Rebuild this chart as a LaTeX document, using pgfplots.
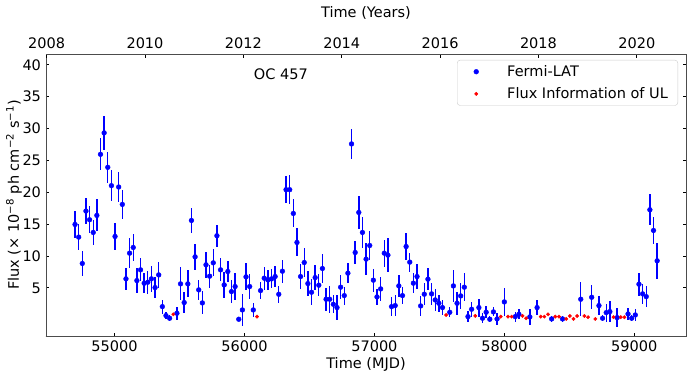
\documentclass[border=0pt]{standalone}
\usepackage{fontspec}
\setmainfont{DejaVu Sans}
\usepackage{pgfplots}
\usepackage{pgfplotstable}
\pgfplotsset{compat=1.18}

% Fermi-LAT 28-day bins: MJD, flux (1e-8 ph cm-2 s-1), error
\pgfplotstableread{
mjd flux err
54696 14.96 2.1
54724 12.97 2.0
54752 8.83 1.9
54780 17.06 2.1
54808 15.69 2.1
54836 13.70 2.0
54864 16.37 2.5
54892 25.96 2.5
54920 29.32 2.7
54948 23.92 2.4
54976 21.04 2.4
55004 13.07 2.1
55032 20.83 2.3
55060 18.10 2.3
55088 6.42 1.7
55116 10.45 2.4
55144 11.34 2.1
55172 6.15 1.9
55200 7.83 1.8
55228 5.73 1.6
55256 5.89 1.8
55284 6.42 2.0
55312 5.05 1.7
55340 7.04 2.1
55368 2.06 1.1
55396 0.65 0.6
55424 0.24 0.5
55480 1.02 1.0
55508 5.63 2.6
55536 2.70 1.6
55564 5.63 2.1
55592 15.58 2.0
55620 9.87 2.0
55648 4.69 1.6
55676 2.64 1.8
55704 8.62 2.0
55732 6.84 1.8
55760 8.93 2.1
55788 13.18 1.7
55816 7.83 1.8
55844 5.47 2.1
55872 7.57 1.6
55900 4.42 1.8
55928 5.21 2.1
55956 0.08 0.0
55984 1.54 2.5
56012 6.73 2.1
56040 5.21 2.0
56068 1.54 1.1
56124 4.58 1.4
56152 6.52 1.8
56180 6.26 1.6
56208 6.41 1.5
56236 6.78 1.6
56264 4.00 1.3
56292 7.62 1.8
56320 20.41 2.1
56348 20.41 2.3
56376 16.68 2.2
56404 12.13 2.2
56432 6.78 1.9
56460 8.98 2.3
56488 5.68 1.9
56516 4.32 2.0
56544 6.62 2.0
56572 5.42 1.7
56600 8.04 2.3
56628 3.22 1.8
56656 3.22 2.1
56684 2.43 1.4
56712 1.91 1.9
56740 5.11 1.9
56768 3.79 1.4
56796 7.31 1.6
56824 27.59 2.4
56852 10.55 1.8
56880 16.84 2.6
56908 13.70 2.4
56936 9.51 2.5
56964 11.65 2.2
56992 6.21 1.8
57020 3.58 1.3
57048 4.84 1.9
57076 10.45 2.1
57104 10.14 2.7
57132 2.06 1.5
57160 2.22 1.6
57188 5.31 1.7
57216 3.79 1.3
57244 11.49 2.1
57272 9.04 1.5
57300 5.74 1.6
57328 6.78 1.9
57356 2.17 1.6
57384 4.01 1.7
57412 6.37 1.7
57440 4.06 1.7
57468 3.11 1.7
57496 2.59 1.3
57524 1.91 1.2
57580 1.17 0.8
57608 5.31 2.5
57636 2.59 1.8
57664 3.74 2.0
57692 5.11 2.2
57720 0.49 0.9
57748 1.65 1.2
57804 1.91 1.4
57832 0.24 0.8
57860 1.18 0.9
57888 0.08 0.5
57916 1.23 0.7
57944 0.13 0.9
58000 2.80 2.2
58084 0.49 0.8
58112 0.86 0.8
58196 0.44 1.2
58252 1.91 1.2
58364 0.13 0.5
58448 0.13 0.5
58588 3.22 2.7
58672 3.53 1.9
58728 2.22 1.5
58756 0.24 0.5
58784 1.12 1.4
58812 1.28 1.6
58868 0.33 1.5
58952 0.91 1.0
58980 0.24 0.5
59008 0.75 0.9
59036 5.58 1.8
59064 4.06 1.6
59092 3.63 1.6
59120 17.26 2.4
59148 14.01 2.1
59176 9.25 2.8
}\fermi

% bins with upper limits
\pgfplotstableread{
mjd flux
55452 0.86
56096 0.49
57552 0.75
57776 0.60
57972 0.49
58028 0.49
58056 0.49
58140 0.60
58168 0.24
58280 0.49
58308 0.49
58336 0.86
58392 0.49
58420 0.49
58476 0.13
58504 0.60
58532 0.13
58560 0.60
58616 0.60
58644 0.40
58700 0.13
58840 0.40
58896 0.40
58924 0.40
}\ul

\begin{document}
\fontsize{14.5}{17}\selectfont
\begin{tikzpicture}
\useasboundingbox (-46pt,-40pt) rectangle (645pt,336pt);
\pgfplotsset{
  every axis/.append style={
    width=640pt, height=282pt, scale only axis,
    at={(0pt,0pt)}, anchor=south west,
    tick align=inside, major tick length=3.5pt,
    axis line style={black!70, line width=0.8pt},
    tick style={black, line width=0.8pt},
    scaled x ticks=false,
    /pgf/number format/assume math mode=true,
    /pgf/number format/1000 sep={},
  },
}
\begin{axis}[
  xmin=54472.6, xmax=59398, ymin=-2.55, ymax=41.7,
  xtick={55000,56000,57000,58000,59000},
  ytick={5,10,15,20,25,30,35,40},
  xtick pos=left, ytick pos=both, yticklabel pos=left,
  xlabel={Time (MJD)},
  ylabel={Flux (× 10\textsuperscript{−8} ph cm\textsuperscript{−2} s\textsuperscript{−1})},
  every axis x label/.style={at={(axis description cs:0.5,-0.101)}, anchor=center},
  every axis y label/.style={at={(axis description cs:-0.05,0.5)}, anchor=center, rotate=90},
  legend cell align=left,
  legend image code/.code={\path[draw=none] (0pt,0pt) -- (40pt,0pt);
    \draw[mark=*,#1] plot coordinates {(11pt,0pt)};},
  legend style={at={(0.9875,0.979)}, anchor=north east, draw=black!20,
    rounded corners=3pt, inner xsep=8pt, inner ysep=3pt, row sep=5pt},
]
\addplot+[only marks, mark=*, blue, mark size=2.4pt,
  mark options={fill=blue, draw=blue},
  error bars/.cd, y dir=both, y explicit,
  error bar style={line width=1.4pt, blue}, error mark=none]
  table[x=mjd, y=flux, y error=err] {\fermi};
\addlegendentry{Fermi-LAT}
\addplot+[only marks, mark=*, red, mark size=1.7pt,
  mark options={fill=red, draw=red}]
  table[x=mjd, y=flux] {\ul};
\addlegendentry{Flux Information of UL}
\node at (rel axis cs:0.367,0.929) {OC 457};
\end{axis}
\begin{axis}[
  xmin=2007.987, xmax=2021, ymin=0, ymax=1,
  hide y axis,
  xtick={2008,2010,2012,2014,2016,2018,2020},
  xtick pos=right, xticklabel pos=right,
  xlabel={Time (Years)},
  every axis x label/.style={at={(axis description cs:0.5,1.147)}, anchor=center},
]
\end{axis}
\end{tikzpicture}
\end{document}
